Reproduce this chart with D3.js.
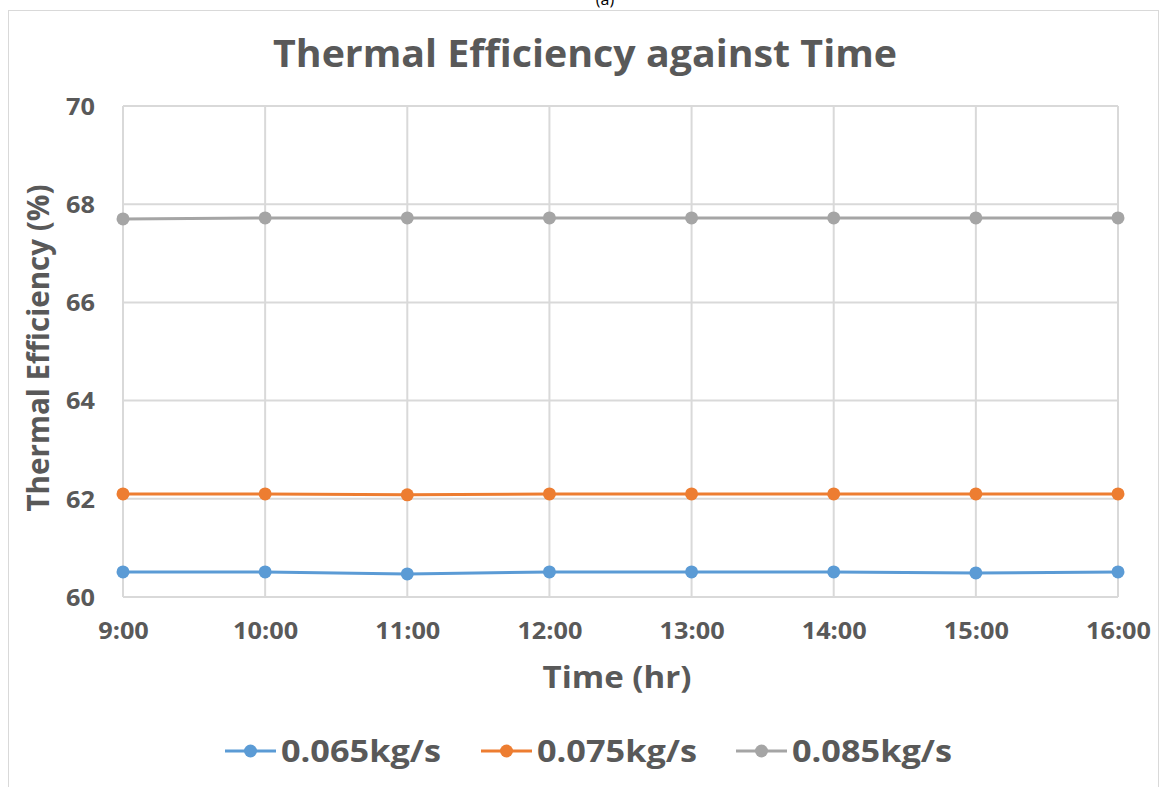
<!DOCTYPE html>
<meta charset="utf-8">
<script src="https://d3js.org/d3.v7.min.js"></script>
<body style="margin:0;background:#fff">
    <div id="viz"></div>
</body>
<style>
    text { font-family: "Open Sans", Lato, sans-serif; font-weight: bold; fill: #595959; }
</style>
<script>
    // data
    let times = ["9:00", "10:00", "11:00", "12:00", "13:00", "14:00", "15:00", "16:00"];
    let series = ["0.065kg/s", "0.075kg/s", "0.085kg/s"];
    let flow065 = [60.51, 60.51, 60.47, 60.51, 60.51, 60.51, 60.49, 60.51];
    let flow075 = [62.10, 62.10, 62.08, 62.10, 62.10, 62.10, 62.10, 62.10];
    let flow085 = [67.70, 67.72, 67.72, 67.72, 67.72, 67.72, 67.72, 67.72];
    let yTicks = [60, 62, 64, 66, 68, 70];
    let colors = ["#5b9bd5", "#ed7d31", "#a5a5a5"];

    let values = [flow065, flow075, flow085];
    let W = 1161, H = 787;
    let plot = {left: 123, right: 1118, top: 106, bottom: 597};

    // stretch text horizontally (the source picture is wider than the font)
    function stretch(sel, f) {
        sel.each(function() {
            let len = this.getComputedTextLength();
            d3.select(this).attr("textLength", len * f).attr("lengthAdjust", "spacingAndGlyphs");
        });
    }

    let svg = d3.select("#viz").append("svg")
        .attr("width", W).attr("height", H);

    // outer chart frame
    svg.append("rect")
        .attr("x", 8.5).attr("y", 10.5)
        .attr("width", 1150).attr("height", 800)
        .style("fill", "none").style("stroke", "#d9d9d9");

    svg.append("text").attr("x", 605).attr("y", 5)
        .attr("text-anchor", "middle")
        .style("font-size", "16px").style("font-weight", "normal").style("fill", "#000")
        .text("(a)");

    let x = d3.scalePoint().domain(times).range([plot.left, plot.right]);
    let y = d3.scaleLinear().domain([60, 70]).range([plot.bottom, plot.top]);

    // grid
    svg.append("g").selectAll("line").data(yTicks).enter().append("line")
        .attr("x1", plot.left).attr("x2", plot.right)
        .attr("y1", d => y(d)).attr("y2", d => y(d))
        .style("stroke", "#d9d9d9").style("stroke-width", 2);
    svg.append("g").selectAll("line").data(times).enter().append("line")
        .attr("x1", d => x(d)).attr("x2", d => x(d))
        .attr("y1", plot.top).attr("y2", plot.bottom)
        .style("stroke", "#d9d9d9").style("stroke-width", 2);

    // axes
    let yAxis = svg.append("g")
        .attr("transform", `translate(${plot.left},0)`)
        .call(d3.axisLeft(y).tickValues(yTicks).tickSize(0).tickPadding(28));
    yAxis.select(".domain").remove();
    yAxis.selectAll(".tick text").style("font-size", "23px").attr("dy", "0.36em");
    stretch(yAxis.selectAll(".tick text"), 1.1);

    let xAxis = svg.append("g")
        .attr("transform", `translate(0,${plot.bottom})`)
        .call(d3.axisBottom(x).tickSize(0).tickPadding(26));
    xAxis.select(".domain").remove();
    xAxis.selectAll(".tick text").style("font-size", "23px");
    stretch(xAxis.selectAll(".tick text"), 1.1);

    // titles
    svg.append("text").attr("x", 585).attr("y", 67)
        .attr("text-anchor", "middle").style("font-size", "37px")
        .attr("textLength", 624).attr("lengthAdjust", "spacingAndGlyphs")
        .text("Thermal Efficiency against Time");
    svg.append("text").attr("x", 617).attr("y", 688)
        .attr("text-anchor", "middle").style("font-size", "31px")
        .attr("textLength", 149).attr("lengthAdjust", "spacingAndGlyphs")
        .text("Time (hr)");
    svg.append("text")
        .attr("transform", "translate(49,348) rotate(-90)")
        .attr("text-anchor", "middle").style("font-size", "30px")
        .attr("textLength", 327).attr("lengthAdjust", "spacingAndGlyphs")
        .text("Thermal Efficiency (%)");

    // lines
    let line = d3.line().x((d, i) => x(times[i])).y(d => y(d));
    values.forEach(function(v, k) {
        svg.append("path").datum(v)
            .attr("d", line)
            .style("fill", "none").style("stroke", colors[k]).style("stroke-width", 3);
        svg.append("g").selectAll("circle").data(v).enter().append("circle")
            .attr("cx", (d, i) => x(times[i])).attr("cy", d => y(d))
            .attr("r", 6.5).style("fill", colors[k]);
    });

    // legend
    let legendX = [225, 481, 736];
    let legend = svg.append("g").selectAll("g").data(series).enter().append("g")
        .attr("transform", (d, i) => `translate(${legendX[i]},751)`);
    legend.append("line").attr("x1", 0).attr("x2", 51)
        .style("stroke", (d, i) => colors[i]).style("stroke-width", 3);
    legend.append("circle").attr("cx", 25.5).attr("r", 6.5).style("fill", (d, i) => colors[i]);
    legend.append("text").attr("x", 56).attr("y", 11)
        .style("font-size", "30px")
        .attr("textLength", 160).attr("lengthAdjust", "spacingAndGlyphs")
        .text(d => d);
</script>
